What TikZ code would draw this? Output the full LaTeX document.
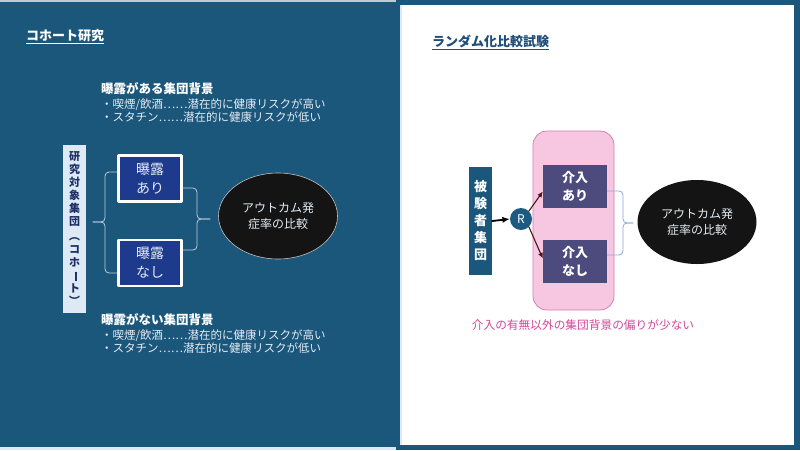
\documentclass[tikz,border=0pt]{standalone}
\usepackage{fontspec}
\setmainfont{Noto Sans CJK JP}
\usetikzlibrary{arrows.meta,positioning,shapes.geometric}
\definecolor{stPanel}{HTML}{1B567B}
\definecolor{stNavy}{HTML}{1E3A8C}
\definecolor{stPale}{HTML}{DDEAF6}
\definecolor{stInk}{HTML}{1F2F66}
\definecolor{stText}{HTML}{E4ECF4}
\definecolor{stPink}{HTML}{F7C6E1}
\definecolor{stPinkLine}{HTML}{D47FB0}
\definecolor{stPinkText}{HTML}{D1489A}
\definecolor{stPurple}{HTML}{4D4A7E}
\definecolor{stBrace}{HTML}{8EA9DB}
\definecolor{stMaroon}{HTML}{4A1818}
\definecolor{stTitle}{HTML}{1F4E79}
\definecolor{stRound}{HTML}{1D5A82}
\tikzset{
  st diagram/.style={x=1pt, y=-1pt, line cap=round, line join=round},
  st title/.style={font=\bfseries\fontsize{13}{15}\selectfont, anchor=west, inner sep=0pt},
  st head/.style={font=\bfseries\fontsize{12.5}{15}\selectfont, text=white, anchor=west, inner sep=0pt},
  st item/.style={font=\fontsize{11.5}{14}\selectfont, text=stText, anchor=west, inner sep=0pt},
  st column/.style={align=center, inner sep=0pt, font=\bfseries\fontsize{11}{13}\selectfont},
  st group/.style={draw=white, line width=2.5pt, fill=stNavy, text=stText, align=center,
    minimum width=63, minimum height=46, inner sep=0pt, font=\fontsize{14}{19}\selectfont},
  st arm/.style={fill=stPurple, text=white, align=center, minimum width=64, minimum height=43,
    inner sep=0pt, font=\bfseries\fontsize{13}{18}\selectfont},
  st outcome/.style={ellipse, fill=black!92, text=stText, align=center, inner sep=0pt,
    font=\fontsize{12}{16}\selectfont},
  st brace/.style={draw=stText!80!stPanel, line width=0.8pt, rounded corners=4pt},
  st brace rct/.style={draw=stBrace, line width=0.8pt, rounded corners=4pt},
  st arrow/.style={-{Latex[length=2.6mm,width=2.2mm]}, draw=black, line width=1.8pt},
  st rand/.style={-{Latex[length=2mm,width=1.8mm]}, draw=stMaroon, line width=1.1pt}
}
\begin{document}
\begin{tikzpicture}[st diagram]
\useasboundingbox (0,0) rectangle (800,450);
\fill[stPanel] (0,0) rectangle (800,450);
\fill[stPale!70!gray] (0,0) rectangle (396,1.5);
\fill[stPale] (0,447) rectangle (396,450);
\fill[white] (400,5) rectangle (794,445);
\fill[stPale] (400,5) rectangle (402,445);

% cohort study
\node[st title, text=white] (ctitle) at (26,37) {\underline{コホート研究}};
\node[st head] (chead1) at (101,89) {曝露がある集団背景};
\node[st head] (chead2) at (101,320) {曝露がない集団背景};
\foreach \h in {1,2}{
  \node[st item, below=3pt of chead\h.south west, anchor=north west] (ci\h a) {・喫煙/飲酒……潜在的に健康リスクが高い};
  \node[st item, below=1.5pt of ci\h a.south west, anchor=north west] (ci\h b) {・スタチン……潜在的に健康リスクが低い};
}
\node[st column, fill=stPale, text=stInk, minimum width=23, minimum height=168] (cohort) at (74.5,229)
  {研\\究\\対\\象\\集\\団\\[2pt]\rotatebox[origin=c]{-90}{（}\\コ\\ホ\\\rotatebox[origin=c]{-90}{ー}\\ト\\\rotatebox[origin=c]{-90}{）}};
\node[st group] (eyes) at (150,178.5) {曝露\\あり};
\node[st group] (eno) at (150,263) {曝露\\なし};
\node[st outcome, draw=white!75!black, line width=0.6pt, minimum width=119, minimum height=86] (cout) at (278,216) {アウトカム発\\症率の比較};
\coordinate (lcusp) at (93,222);
\coordinate (rcusp) at (210,219);
\draw[st brace] ([yshift=6.5pt]eyes.west) -| ([xshift=12pt]lcusp) -- (lcusp);
\draw[st brace] ([yshift=-10pt]eno.west) -| ([xshift=12pt]lcusp) -- (lcusp);
\draw[st brace] ([yshift=-9.5pt]eyes.east) -| ([xshift=-13pt]rcusp) -- (rcusp);
\draw[st brace] ([yshift=13pt]eno.east) -| ([xshift=-13pt]rcusp) -- (rcusp);

% randomised trial
\node[st title, text=stTitle] (rtitle) at (432,42) {\underline{ランダム化比較試験}};
\node[st column, fill=stPanel, text=white, minimum width=23, minimum height=108,
  font=\bfseries\fontsize{13}{17}\selectfont] (subj) at (480.5,221) {被\\験\\者\\集\\団};
\node[circle, fill=stRound, text=white, minimum size=22, inner sep=0pt,
  font=\fontsize{12}{12}\selectfont] (rand) at (521,219) {R};
\node[draw=stPinkLine, fill=stPink, line width=0.8pt, rounded corners=14pt,
  minimum width=81, minimum height=179] (pink) at (573.5,220.5) {};
\node[st arm] (iyes) at (575,186.5) {介入\\あり};
\node[st arm] (ino) at (575,261.5) {介入\\なし};
\node[st outcome, minimum width=119, minimum height=84] (rout) at (697,222) {アウトカム発\\症率の比較};
\node[font=\fontsize{11.7}{14}\selectfont, text=stPinkText, inner sep=0pt] (note) at (583,325) {介入の有無以外の集団背景の偏りが少ない};
\draw[st arrow] (subj.east) -- (rand.west);
\draw[st rand] (rand.north east) -- ([yshift=-5pt]iyes.west);
\draw[st rand] (rand.south east) -- ([yshift=3pt]ino.west);
\coordinate (icusp) at (633,223);
\draw[st brace rct] ([yshift=-4.5pt]iyes.east) -| ([xshift=-10pt]icusp) -- (icusp);
\draw[st brace rct] ([yshift=6.5pt]ino.east) -| ([xshift=-10pt]icusp) -- (icusp);
\end{tikzpicture}
\end{document}
